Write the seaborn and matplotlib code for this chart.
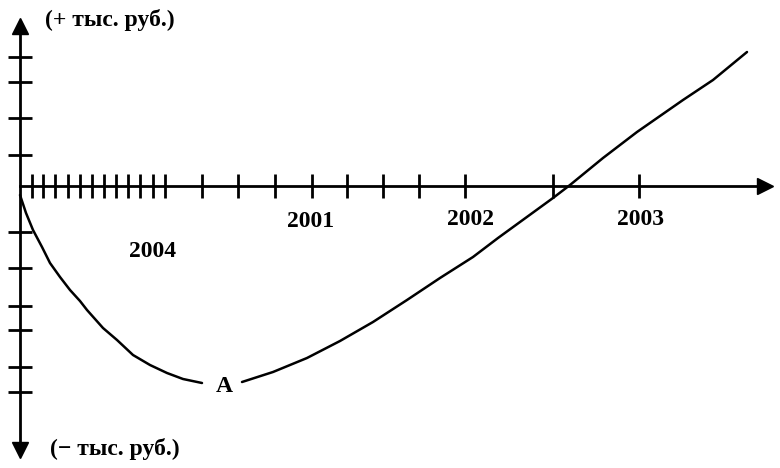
import pandas as pd
import matplotlib.pyplot as plt
import seaborn as sns


# ==========================================
# Data (x = time scale, y = thousand rubles)
# ==========================================

seg1_x = [0, 6, 13, 22, 30, 40, 50, 60, 67, 75, 83, 97, 113, 130, 147, 163, 182]
seg1_y = [-9, -27, -44, -61, -77, -91, -104, -115, -124, -133, -142, -154, -169, -179, -187, -193, -197]

seg2_x = [222, 253, 287, 320, 353, 387, 420, 453, 478, 533, 550, 583, 617, 663, 693, 727]
seg2_y = [-196, -186, -172, -155, -136, -114, -92, -71, -52, -12, 1, 28, 54, 86, 106, 134]

x_ticks = [12, 23, 35, 48, 60, 72, 84, 96, 108, 120, 133, 145,
           182, 218, 255, 292, 327, 363, 399, 445, 533, 619]
y_ticks = [129, 104, 68, 31, -46, -82, -120, -144, -181, -206]

year_labels = ["2004", "2001", "2002", "2003"]
year_x = [133, 291, 451, 620]
year_y = [-66, -36, -34, -34]

curve = pd.DataFrame({
    "x": seg1_x + seg2_x,
    "y": seg1_y + seg2_y,
    "segment": ["left"] * len(seg1_x) + ["right"] * len(seg2_x),
})


# ==========================================
# Figure
# ==========================================

sns.set_style("white")
plt.rcParams["font.family"] = ["Liberation Serif", "DejaVu Serif"]

fig = plt.figure(figsize=(7.8, 4.68), dpi=100)
ax = fig.add_axes([0, 0, 1, 1])

sns.lineplot(
    data=curve,
    x="x",
    y="y",
    units="segment",
    estimator=None,
    sort=False,
    color="black",
    linewidth=1.8,
    ax=ax
)
for line in ax.get_lines():
    line.set_solid_joinstyle("round")

ax.set_xlim(-20, 760)
ax.set_ylim(-282, 186)

# axes through the origin
ax.spines["right"].set_visible(False)
ax.spines["top"].set_visible(False)
ax.spines["left"].set_position(("data", 0))
ax.spines["bottom"].set_position(("data", 0))
ax.spines["left"].set_bounds(-266, 164)
ax.spines["bottom"].set_bounds(0, 745)
for side in ["left", "bottom"]:
    ax.spines[side].set_linewidth(2)
    ax.spines[side].set_color("black")

# arrow heads
ax.plot(745, 0, marker=">", markersize=11, color="black", clip_on=False)
ax.plot(0, 160, marker="^", markersize=11, color="black", clip_on=False)
ax.plot(0, -264, marker="v", markersize=11, color="black", clip_on=False)

ax.set_xticks(x_ticks)
ax.set_yticks(y_ticks)
ax.set_xticklabels([])
ax.set_yticklabels([])
ax.tick_params(axis="both", direction="inout", length=17, width=2, color="black",
               bottom=True, left=True)

ax.set_xlabel("")
ax.set_ylabel("")

# labels
txt = dict(fontsize=17, fontweight="bold", color="black", va="center")
ax.text(25, 166, "(+ тыс. руб.)", ha="left", **txt)
ax.text(30, -263, "(− тыс. руб.)", ha="left", **txt)
for label, lx, ly in zip(year_labels, year_x, year_y):
    ax.text(lx, ly, label, ha="center", **txt)
ax.text(204, -201, "A", ha="center", **txt)

fig.savefig("out.png", dpi=100)
